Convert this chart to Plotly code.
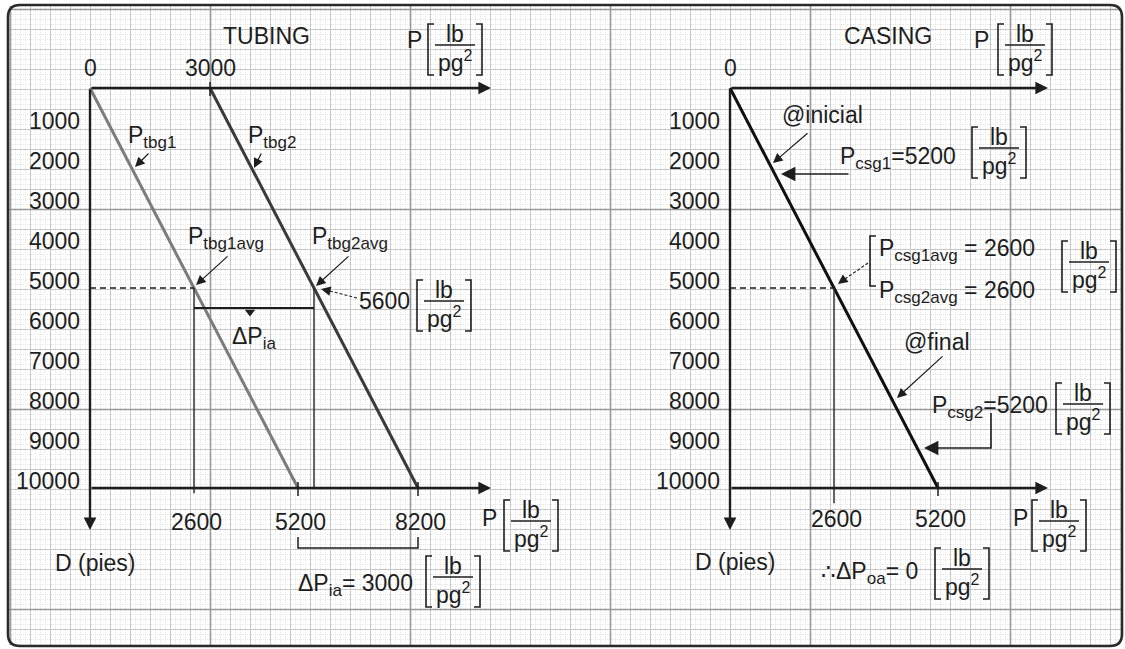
import numpy as np
import plotly.graph_objects as go

# ---------------- data ----------------
depth_ticks = [1000, 2000, 3000, 4000, 5000, 6000, 7000, 8000, 9000, 10000]
depth_labels = [str(d) for d in depth_ticks]
tbg_top_ticks = [0, 3000]
tbg_bottom_ticks = [2600, 5200, 8200]
csg_top_ticks = [0]
csg_bottom_ticks = [2600, 5200]
depth_surface = 0
depth_total = 10000
depth_avg = 5000
tbg1_pressure = [0, 5200]      # surface, bottom  (P_tbg1)
tbg2_pressure = [3000, 8200]   # surface, bottom  (P_tbg2)
csg_pressure = [0, 5200]       # P_csg1 / P_csg2 line
tbg1_avg = 2600
tbg2_avg = 5600
csg1_avg = 2600
csg2_avg = 2600
dP_ia = 3000
dP_oa = 0
csg1 = 5200
csg2 = 5200

# ---------------- layout constants ----------------
W, H = 1125, 649
SC = 0.04                 # px per unit (psi or ft)
LX0, Y0 = 90, 88          # left panel origin (px)
RX0 = 730                 # right panel origin x (px)
FONT = "Liberation Sans, Arial, sans-serif"
INK = "#1e1e1e"
FS = 23
SUB = 17

fig = go.Figure()

# ---------------- graph paper ----------------
def grid_trace(xs, ys, color, width, dash=None):
    gx, gy = [], []
    for x in xs:
        gx += [x + 0.5, x + 0.5, None]
        gy += [6, 645, None]
    for y in ys:
        gx += [9, 1121, None]
        gy += [y + 0.5, y + 0.5, None]
    line = dict(color=color, width=width)
    if dash:
        line["dash"] = dash
    fig.add_trace(go.Scatter(x=gx, y=gy, mode="lines", line=line,
                             hoverinfo="skip", showlegend=False))

fine_x = [x for x in range(10, 1122, 5) if (x - 10) % 20]
fine_y = [y for y in range(9, 646, 5) if (y - 9) % 20]
mid_x = [x for x in range(10, 1122, 20) if (x - 10) % 200]
mid_y = [y for y in range(9, 646, 20) if (y - 9) % 200]
dark_x = list(range(10, 1122, 200))
dark_y = list(range(9, 646, 200))
grid_trace(fine_x, fine_y, "#e6e6e6", 1, "1px,1px")
grid_trace(mid_x, mid_y, "#c8c8c8", 1)
grid_trace(dark_x, dark_y, "#9a9a9a", 1.6)

# ---------------- data lines ----------------
def line(xs, ys, xa, color=INK, width=2, dash=None):
    ln = dict(color=color, width=width)
    if dash:
        ln["dash"] = dash
    fig.add_trace(go.Scatter(x=xs, y=ys, xaxis=xa, yaxis="y2", mode="lines",
                             line=ln, hoverinfo="skip", showlegend=False))

D = [depth_surface, depth_total]
line(tbg1_pressure, D, "x2", "#7c7c7c", 3)
line(tbg2_pressure, D, "x2", "#3a3a3a", 3)
line(csg_pressure, D, "x3", "#101010", 3)

# averages
line([0, tbg1_avg], [depth_avg, depth_avg], "x2", INK, 1.5, "6px,4px")
line([tbg1_avg, tbg1_avg], [depth_avg, depth_total + 130], "x2", "#333", 1.5)
line([tbg2_avg, tbg2_avg], [depth_avg, depth_total], "x2", "#333", 1.5)
line([0, csg1_avg], [depth_avg, depth_avg], "x3", INK, 1.5, "6px,4px")
line([csg1_avg, csg1_avg], [depth_avg, depth_total + 380], "x3", "#333", 1.5)

# delta P_ia bracket between averages
line([tbg1_avg, tbg2_avg], [depth_avg + 500] * 2, "x2", INK, 2)
fig.add_trace(go.Scatter(x=[(tbg1_avg + tbg2_avg) / 2 - 100], y=[depth_avg + 600],
                         xaxis="x2", yaxis="y2", mode="markers",
                         marker=dict(symbol="triangle-down", size=9, color=INK),
                         hoverinfo="skip", showlegend=False))
# bracket under 5200 .. 8200
b0, b1 = tbg1_pressure[1], tbg2_pressure[1]
line([b0, b0, b1, b1], [11225, 11500, 11500, 11225], "x2", INK, 1.5)

# ticks on axes
def ticks(vals, depth, xa, up=150, down=200):
    xs, ys = [], []
    for v in vals:
        xs += [v, v, None]
        ys += [depth - up, depth + down, None]
    line(xs, ys, xa, INK, 1.5)

ticks([t for t in tbg_top_ticks if t], 0, "x2")
ticks([5200, 8200], depth_total, "x2")
ticks([5200], depth_total, "x3")

# ---------------- axes (arrows) ----------------
def arrow(x, y, ax, ay, xref="x", yref="y", width=1.2, head=2, size=1.6, color=INK):
    fig.add_annotation(x=x, y=y, ax=ax, ay=ay, xref=xref, yref=yref,
                       axref=xref, ayref=yref, text="", showarrow=True,
                       arrowhead=head, arrowsize=size, arrowwidth=width,
                       arrowcolor=color, standoff=0, startstandoff=0)

L_END, R_END, D_END = 10025, 7950, 11050
for xa, end in (("x2", L_END), ("x3", R_END)):
    arrow(end, 0, 0, 0, xa, "y2", width=2.4, head=2, size=1.05)
    arrow(end, depth_total, 0, depth_total, xa, "y2", width=2.4, head=2, size=1.05)
    arrow(0, D_END, 0, 0, xa, "y2", width=2.4, head=2, size=1.05)

# ---------------- text helpers ----------------
def txt(x, y, s, xanchor="left", size=FS, xref="x", yref="y", yanchor="middle",
        xshift=0, yshift=0):
    fig.add_annotation(x=x, y=y, xref=xref, yref=yref, text=s, showarrow=False,
                       xanchor=xanchor, yanchor=yanchor, xshift=xshift, yshift=yshift,
                       font=dict(family=FONT, size=size, color=INK))

def sub(s):
    return f"<sub><span style='font-size:{SUB}px'>{s}</span></sub>"

def shape_path(p, width=1.6, color=INK, dash=None):
    ln = dict(color=color, width=width)
    if dash:
        ln["dash"] = dash
    fig.add_shape(type="path", path=p, xref="x", yref="y", line=ln, layer="above")

def unit(x0, bar, w=54):
    top, bot = bar - 21, bar + 30
    shape_path(f"M {x0+6},{top} L {x0},{top} L {x0},{bot} L {x0+6},{bot}")
    shape_path(f"M {x0+w-6},{top} L {x0+w},{top} L {x0+w},{bot} L {x0+w-6},{bot}")
    shape_path(f"M {x0+7},{bar} L {x0+w-7},{bar}", width=1.4)
    txt(x0 + w / 2, bar - 11, "lb", "center")
    txt(x0 + w / 2, bar + 16,
        "pg<sup><span style='font-size:16px'>2</span></sup>", "center")

# tick labels through the data axes
for d, lab in zip(depth_ticks, depth_labels):
    for xa in ("x2", "x3"):
        txt(0, d, lab, "right", xref=xa, yref="y2", xshift=-8, yshift=7)
for t in tbg_top_ticks:
    txt(t, 0, str(t), "center", xref="x2", yref="y2", yshift=20)
for t in csg_top_ticks:
    txt(t, 0, str(t), "center", xref="x3", yref="y2", yshift=20)
for t in tbg_bottom_ticks:
    txt(t, depth_total, str(t), "center", xref="x2", yref="y2", yshift=-34, xshift=2)
for t in csg_bottom_ticks:
    txt(t, depth_total, str(t), "center", xref="x3", yref="y2", yshift=-31, xshift=2)

# titles and units
txt(266, 36, "TUBING", "center")
txt(888, 36, "CASING", "center")
txt(405, 40, "P"); unit(428, 45)
txt(972, 40, "P"); unit(998, 45)
txt(480, 518, "P"); unit(504, 521)
txt(1011, 518, "P"); unit(1032, 521)
txt(95, 563, "D (pies)", "center")
txt(735, 562, "D (pies)", "center")

# left panel labels
txt(126, 137, "P" + sub("tbg1"))
txt(246, 137, "P" + sub("tbg2"))
txt(186, 238, "P" + sub("tbg1avg"))
txt(310, 238, "P" + sub("tbg2avg"))
txt(230, 338, "ΔP" + sub("ia"))
txt(357, 301, f"{tbg2_avg}"); unit(417, 301)
txt(296, 585, "ΔP" + sub("ia") + f"= {dP_ia}"); unit(426, 577)

arrow(135, 167, 150, 152)
arrow(254, 168, 262, 152)
arrow(196, 285, 229, 255)
arrow(316, 286, 350, 255)
shape_path("M 357,298 L 326,290", width=1.2, dash="3px,2px")
arrow(321, 289, 330, 291)

# right panel labels
txt(780, 115, "@inicial")
txt(838, 158, "P" + sub("csg1") + f"={csg1}"); unit(972, 148)
shape_path("M 876,236 L 870,236 L 870,286 L 876,286", width=1.6)
txt(877, 250, "P" + sub("csg1avg") + f" = {csg1_avg}")
txt(877, 292, "P" + sub("csg2avg") + f" = {csg2_avg}")
unit(1062, 262)
txt(902, 342, "@final")
txt(930, 407, "P" + sub("csg2") + f"={csg2}"); unit(1056, 404)
txt(819, 573, "∴ΔP" + sub("oa") + f"= {dP_oa}"); unit(935, 569)

arrow(773, 163, 809, 132)
arrow(781, 174, 850, 174, width=1.6, head=2, size=1.8)
shape_path("M 868,263 L 842,281", width=1.2, dash="3px,2px")
arrow(838, 284, 846, 278)
arrow(897, 398, 944, 355)
shape_path("M 991,413 L 991,448 L 935,448", width=1.6)
arrow(924, 448, 940, 448, width=1.6, head=2, size=1.8)

# border
shape_path("M 20,5 L 1110,5 Q 1122,5 1122,17 L 1122,634 Q 1122,646 1110,646 "
           "L 20,646 Q 8,646 8,634 L 8,17 Q 8,5 20,5 Z", width=2.6, color="#2a2a2a")

# ---------------- axes setup ----------------
hidden = dict(visible=False, showgrid=False, zeroline=False, fixedrange=True)
fig.update_layout(
    width=W, height=H, margin=dict(l=0, r=0, t=0, b=0),
    paper_bgcolor="white", plot_bgcolor="white", showlegend=False,
    xaxis=dict(range=[0, W], domain=[0, 1], **hidden),
    yaxis=dict(range=[H, 0], domain=[0, 1], **hidden),
    xaxis2=dict(range=[-LX0 / SC, (W - LX0) / SC], overlaying="x", **hidden),
    yaxis2=dict(range=[(H - Y0) / SC, -Y0 / SC], overlaying="y", **hidden),
    xaxis3=dict(range=[-RX0 / SC, (W - RX0) / SC], overlaying="x", **hidden),
)
fig.write_html("out.html", config={"displayModeBar": False},
               post_script="document.body.style.margin='0';"
                           "document.body.style.overflow='hidden';")
